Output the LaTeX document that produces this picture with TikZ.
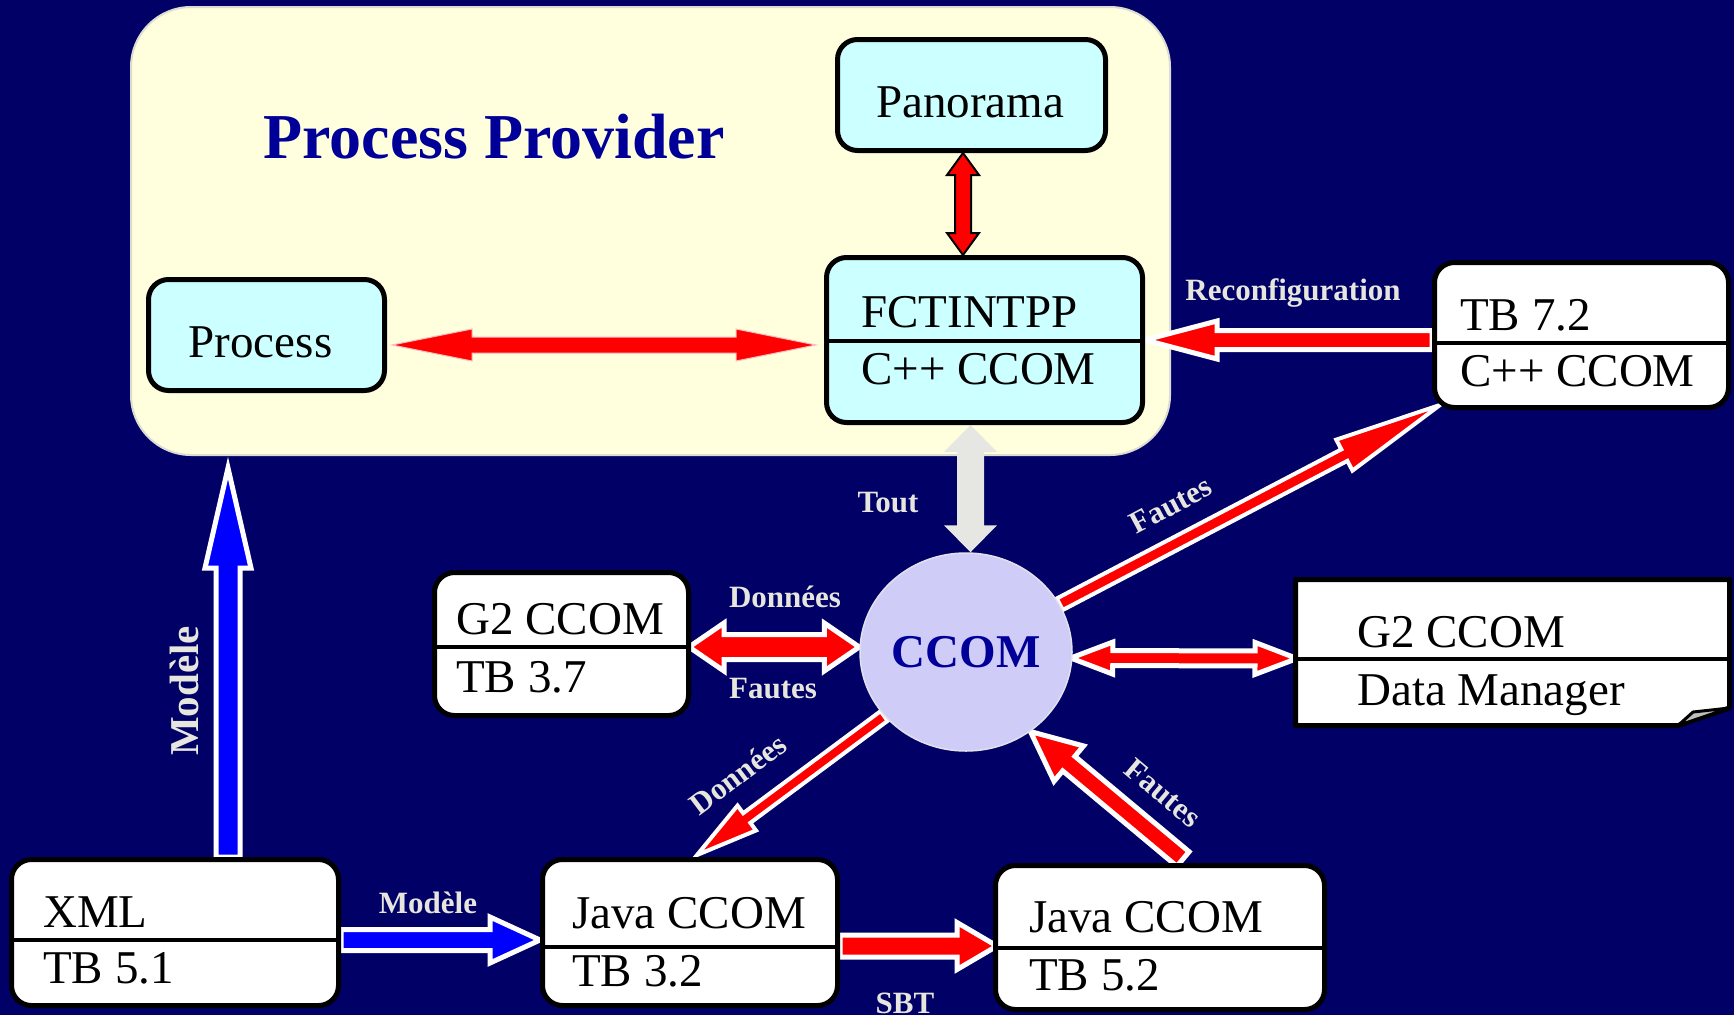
\documentclass[tikz,border=0pt]{standalone}
\usepackage{fontspec}
\setmainfont{Liberation Serif}
\usetikzlibrary{calc,shapes.geometric}
\pgfdeclarelayer{bg}\pgfdeclarelayer{arrows}
\pgfsetlayers{bg,arrows,main}
\definecolor{bgnavy}{RGB}{0,0,102}
\definecolor{ppfill}{RGB}{255,255,221}
\definecolor{ppborder}{RGB}{220,220,210}
\definecolor{cyanfill}{RGB}{204,255,255}
\definecolor{ccomfill}{RGB}{208,204,248}
\definecolor{ccomborder}{RGB}{225,225,235}
\definecolor{titleblue}{RGB}{0,0,153}
\definecolor{lblgrey}{RGB}{230,230,222}
\definecolor{arrred}{RGB}{255,0,0}
\definecolor{arrblue}{RGB}{0,0,255}
\definecolor{toutgrey}{RGB}{230,230,226}
\definecolor{pinkedge}{RGB}{255,190,190}
\definecolor{foldgrey}{RGB}{190,190,190}
\newcommand\bodyfont{\fontsize{47}{50}\selectfont}
\newcommand\lblfont{\bfseries\fontsize{31}{33}\selectfont}
\newcommand\biglblfont{\bfseries\fontsize{41}{44}\selectfont}
\newcommand\titlefont{\bfseries\fontsize{64}{68}\selectfont}
% single-headed fat arrow: [style]{from}{to}{half shaft}{half head}{head length}
\newcommand\fatarrow[6][]{%
  \coordinate (fahA) at ($(#3)!#6pt!(#2)$);
  \path[#1] ($(#2)!#4pt!90:(#3)$) -- ($(fahA)!#4pt!90:(#3)$) -- ($(fahA)!#5pt!90:(#3)$) -- (#3)
    -- ($(fahA)!#5pt!-90:(#3)$) -- ($(fahA)!#4pt!-90:(#3)$) -- ($(#2)!#4pt!-90:(#3)$) -- cycle;}
% double-headed fat arrow
\newcommand\fatdarrow[6][]{%
  \coordinate (fahA) at ($(#2)!#6pt!(#3)$);
  \coordinate (fahB) at ($(#3)!#6pt!(#2)$);
  \path[#1] (#2) -- ($(fahA)!#5pt!90:(#3)$) -- ($(fahA)!#4pt!90:(#3)$) -- ($(fahB)!#4pt!90:(#3)$)
    -- ($(fahB)!#5pt!90:(#3)$) -- (#3) -- ($(fahB)!#5pt!-90:(#3)$) -- ($(fahB)!#4pt!-90:(#3)$)
    -- ($(fahA)!#4pt!-90:(#3)$) -- ($(fahA)!#5pt!-90:(#3)$) -- cycle;}
\begin{document}
\begin{tikzpicture}[x=1pt,y=-1pt,
  box/.style={draw=black, line width=5pt, rounded corners=20pt, fill=white, inner sep=0pt},
  cbox/.style={box, fill=cyanfill},
  divline/.style={draw=black, line width=4.5pt},
  txt/.style={font=\bodyfont, anchor=base west, inner sep=0pt},
  ctxt/.style={font=\bodyfont, anchor=base, inner sep=0pt},
  lbl/.style={font=\lblfont, text=lblgrey, inner sep=0pt},
  redw/.style={fill=arrred, draw=white, line width=5pt},
  redw4/.style={fill=arrred, draw=white, line width=4pt},
  bluew/.style={fill=arrblue, draw=white, line width=5pt}]
\useasboundingbox (0,0) rectangle (1734,1015);
\begin{pgfonlayer}{bg}
  \fill[bgnavy] (0,0) rectangle (1734,1015);
  \node[draw=ppborder, line width=2pt, fill=ppfill, rounded corners=60pt,
        minimum width=1039pt, minimum height=448pt, inner sep=0pt] (pp) at (650.5,231) {};
\end{pgfonlayer}
\node[font=\titlefont, text=titleblue, anchor=base, inner sep=0pt] (title) at (494,158) {Process Provider};
% Panorama
\node[cbox, minimum width=268pt, minimum height=111pt] (pan) at (971.5,95) {};
\node[ctxt] (panT) at (970,117) {Panorama};
% Process
\node[cbox, minimum width=236pt, minimum height=111pt] (proc) at (266.5,335) {};
\node[ctxt] (procT) at (260.5,357) {Process};
% FCTINTPP
\node[cbox, minimum width=316pt, minimum height=165pt] (fct) at (984.5,340) {};
\draw[divline] ($(fct.west)+(0,1)$) -- ($(fct.east)+(0,1)$);
\node[txt] (fct1) at (861,327) {FCTINTPP};
\node[txt] (fct2) at (861,384) {C++ CCOM};
% TB 7.2
\node[box, minimum width=294pt, minimum height=145pt] (tb72) at (1581.5,335) {};
\draw[divline] ($(tb72.west)+(0,8)$) -- ($(tb72.east)+(0,8)$);
\node[txt] (tb721) at (1460,330) {TB 7.2};
\node[txt] (tb722) at (1460,386) {C++ CCOM};
% G2 CCOM / TB 3.7
\node[box, minimum width=254pt, minimum height=143pt] (g2a) at (561.5,644) {};
\draw[divline] ($(g2a.west)+(0,3)$) -- ($(g2a.east)+(0,3)$);
\node[txt] (g2a1) at (456,634) {G2 CCOM};
\node[txt] (g2a2) at (456,692) {TB 3.7};
% G2 CCOM / Data Manager (note shape)
\node[minimum width=439pt, minimum height=151pt, inner sep=0pt, outer sep=0pt] (dm) at (1512.5,652.5) {};
\filldraw[fill=white, draw=black, line width=5pt, line join=round]
  (1295.5,579.5) -- (1729.5,579.5) -- (1729.5,708) -- (1678,725.5) -- (1295.5,725.5) -- cycle;
\filldraw[fill=foldgrey, draw=black, line width=3pt, line join=round]
  (1678,725.5) -- (1693,712) -- (1729.5,708) -- cycle;
\draw[divline] ($(dm.west)+(0,6.5)$) -- ($(dm.east)+(-2,6.5)$);
\node[txt] (dm1) at (1357,647) {G2 CCOM};
\node[txt] (dm2) at (1357,705) {Data Manager};
% XML / TB 5.1
\node[box, minimum width=327pt, minimum height=146pt] (xml) at (175,932.5) {};
\draw[divline] ($(xml.west)+(0,7.5)$) -- ($(xml.east)+(0,7.5)$);
\node[txt] (xml1) at (43,927) {XML};
\node[txt] (xml2) at (43,983) {TB 5.1};
% Java CCOM / TB 3.2
\node[box, minimum width=295pt, minimum height=146pt] (j32) at (690,932.5) {};
\draw[divline] ($(j32.west)+(0,14.5)$) -- ($(j32.east)+(0,14.5)$);
\node[txt] (j321) at (572,928) {Java CCOM};
\node[txt] (j322) at (572,986) {TB 3.2};
% Java CCOM / TB 5.2
\node[box, minimum width=329pt, minimum height=144pt] (j52) at (1160,937.5) {};
\draw[divline] ($(j52.west)+(0,10.5)$) -- ($(j52.east)+(0,10.5)$);
\node[txt] (j521) at (1029,932) {Java CCOM};
\node[txt] (j522) at (1029,990) {TB 5.2};
% CCOM
\node[ellipse, fill=ccomfill, draw=ccomborder, line width=1.5pt, minimum width=212pt, minimum height=198pt,
      inner sep=0pt, font=\bodyfont\bfseries, text=titleblue] (ccom) at (966,652) {CCOM};
% arrows
\begin{pgfonlayer}{arrows}
  \coordinate (aP1) at ($(pan.south)+(-8.5,0)$);
  \coordinate (aP2) at ($(fct.north)+(-21.5,0)$);
  \fatdarrow[fill=arrred, draw=black, line width=2pt]{aP1}{aP2}{8}{16}{22}
  \coordinate (aQ1) at ($(proc.east)+(5,10)$);
  \coordinate (aQ2) at ($(fct.west)+(-8,5)$);
  \fatdarrow[fill=arrred, draw=pinkedge, line width=1pt]{aQ1}{aQ2}{8}{16}{80}
  \coordinate (aR1) at ($(tb72.west)+(0,5)$);
  \coordinate (aR2) at (fct.east);
  \fatarrow[redw]{aR1}{aR2}{9.5}{19}{72}
  \coordinate (aT1) at ($(fct.south)+(-14,0)$);
  \coordinate (aT2) at (aT1 |- ccom.north);
  \fatdarrow[fill=toutgrey, draw=none]{aT1}{aT2}{13.5}{26.5}{27}
  \coordinate (aF1) at (ccom.27);
  \coordinate (aF2) at ($(tb72.south west)+(8,-5)$);
  \fatarrow[redw4]{aF1}{aF2}{6.5}{17.5}{108}
  \coordinate (aG1) at ($(g2a.east)+(-2,3)$);
  \coordinate (aG2) at ($(ccom.west)+(0,-5)$);
  \fatdarrow[redw]{aG1}{aG2}{12.5}{24}{35}
  \coordinate (aD1) at ($(ccom.east)+(-2,6)$);
  \coordinate (aD2) at ($(dm.west)+(4,6)$);
  \fatdarrow[redw]{aD1}{aD2}{7.5}{16}{42}
  \coordinate (aN1) at (ccom.218);
  \coordinate (aN2) at ($(j32.north)+(7,-2)$);
  \fatarrow[redw4]{aN1}{aN2}{6}{15.5}{62}
  \coordinate (aK1) at ($(j52.north)+(23,-4)$);
  \coordinate (aK2) at (ccom.-51);
  \fatarrow[redw]{aK1}{aK2}{9.5}{23}{50}
  \coordinate (aM1) at ($(xml.north)+(53,0)$);
  \coordinate (aM2) at ($(aM1 |- pp.south)+(0,12)$);
  \fatarrow[bluew]{aM1}{aM2}{12}{23}{100}
  \coordinate (aL1) at ($(xml.east)+(0,7.5)$);
  \coordinate (aL2) at ($(j32.west)+(0,7.5)$);
  \fatarrow[bluew]{aL1}{aL2}{10.5}{23}{50}
  \coordinate (aS1) at ($(j32.east)+(0,13.5)$);
  \coordinate (aS2) at ($(j52.west)+(4,8.5)$);
  \fatarrow[redw]{aS1}{aS2}{11}{23.5}{40}
\end{pgfonlayer}
% labels
\node[lbl, anchor=base] (lReconf) at (1293,300) {Reconfiguration};
\node[lbl, anchor=base] (lTout) at (888,512) {Tout};
\node[lbl, rotate=28] (lF1) at (1171,505) {Fautes};
\node[lbl, anchor=base] (lD1) at (785,607) {Données};
\node[lbl, anchor=base] (lF2) at (773,698) {Fautes};
\node[lbl, rotate=37] (lD2) at (738,774) {Données};
\node[lbl, rotate=-40] (lF3) at (1163,793) {Fautes};
\node[lbl, font=\biglblfont, rotate=90] (lM1) at (184,691) {Modèle};
\node[lbl, anchor=base] (lM2) at (428,913) {Modèle};
\node[lbl, anchor=base] (lSBT) at (905,1013) {SBT};
\end{tikzpicture}
\end{document}
